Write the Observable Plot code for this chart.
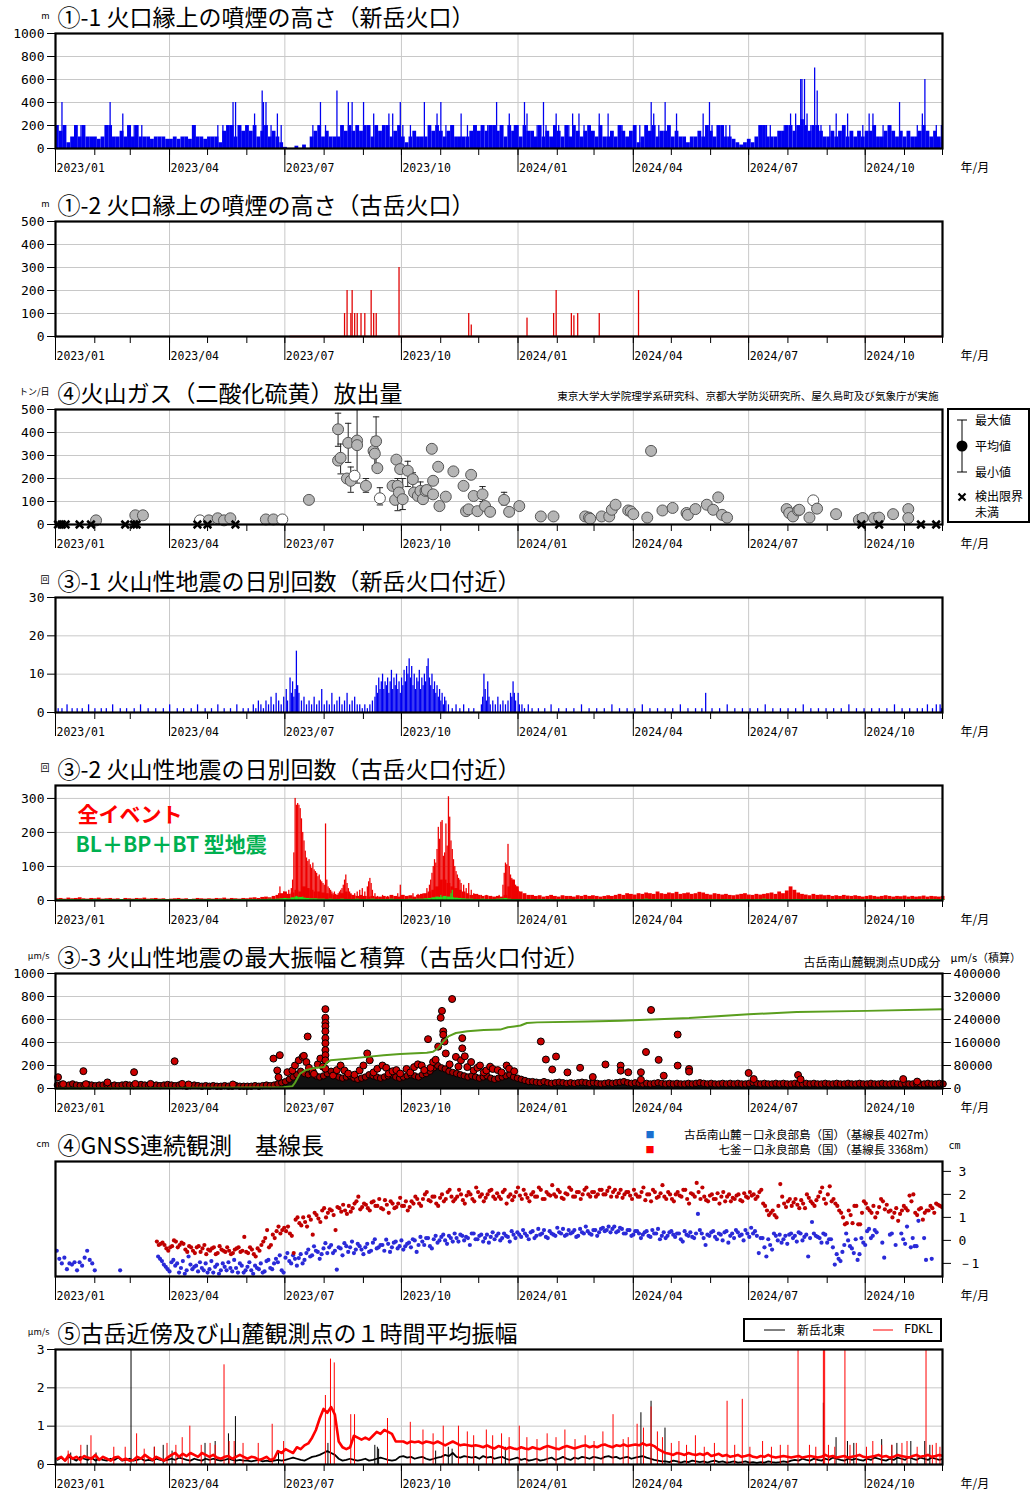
<!DOCTYPE html>
<html><head><meta charset="utf-8">
<script src="https://cdn.jsdelivr.net/npm/d3@7"></script>
<script src="https://cdn.jsdelivr.net/npm/@observablehq/plot@0.6"></script>
<style>
body{margin:0;background:#fff;}
#wrap{position:relative;width:1030px;height:1492px;overflow:hidden;background:#fff;}
#wrap svg{display:block;}
.box{position:absolute;border:2px solid #000;background:#fff;font-family:'Noto Sans CJK JP',sans-serif;font-size:12px;}
.box span{position:absolute;white-space:nowrap;line-height:13px;}
</style>
</head><body><div id="wrap"></div>
<script>
// ---------- DATA ----------
// day numbers count from 2023-01-01 (day 0); the charts run to 2024-12-01 (day 700)

// ①-1 plume height, Shindake: typical level per 3-day bin (m) and individual higher days [day, m]
const smokeShinBase3d = [
 200,150,200,50,100,200,100,200,100,100, 100,80,100,200,200,100,100,150,100,200,
 100,200,100,100,100,80,100,100,100,80, 80,100,80,100,100,80,200,100,100,80,
 100,100,100,50,150,200,200,100,200,150, 200,150,200,100,150,200,100,150,100,50,
 10,0,0,20,0,30,0,
 100,150,200,100,150,100,100,100,200,150,200,150,200,
 150,200,200,100,200,150,200,200,100,150, 200,100,50,100,150,100,100,100,200,150,
 200,150,100,150,200,100,100,100,100,150, 200,150,200,150,200,200,150,200,100,200,
 150,200,100,200,150,150,100,200,100,150, 100,200,150,100,200,100,200,150,100,150,
 200,150,100,200,100,100,150,100,200,150, 100,150,200,50,100,200,150,200,100,150,
 150,200,100,150,100,100,50,100,100,150, 100,200,150,100,200,200,100,100,80,50,
 30,50,80,50,100,200,200,100,100,100, 150,150,200,200,150,200,250,200,150,200,
 200,150,100,100,150,100,150,200,100,150, 100,150,100,150,150,200,100,100,150,200,
 150,100,150,100,150,100,100,150,200,150, 100,150,100,50];
const smokeShinPeaks = [
 [5,400],[16,200],[20,200],[22,200],[43,400],[53,300],[57,200],[62,200],[68,200],[110,200],[128,200],[132,200],
 [136,200],[140,400],[142,400],[146,200],[151,200],[157,300],[163,500],[164,400],[166,400],[170,200],[175,300],[178,200],
 [203,200],[209,400],[213,200],[222,500],[231,400],[234,400],[238,200],[243,400],[251,300],[263,300],[266,300],
 [272,400],[274,200],[280,200],[291,400],[295,200],[301,300],[304,400],[308,200],[312,200],[320,300],[325,200],
 [330,200],[336,200],[341,200],[348,400],[351,200],[358,300],[362,200],[364,200],[370,400],[372,300],[380,200],
 [385,400],[387,200],[395,300],[397,200],[403,200],[405,200],[408,300],[413,300],[417,200],[422,200],[429,300],
 [436,300],[446,200],[447,200],[461,200],[470,400],[472,300],[476,200],[481,400],[484,200],[490,300],[511,300],
 [516,400],[518,200],[526,200],[529,200],[532,200],[561,200],[564,200],[575,200],[580,300],[584,300],[588,600],
 [589,600],[591,600],[593,300],[596,200],[599,700],[601,500],[604,200],[611,200],[616,300],[625,300],[637,200],
 [642,300],[645,300],[653,200],[659,200],[666,400],[680,200],[684,300],[686,600],[695,200],[699,200]];

// ①-2 plume height, Furudake [day, m]
const smokeFuruDays = [
 [228,100],[230,200],[233,100],[234,200],[236,100],[238,100],[241,100],[244,100],[249,200],[251,100],[253,100],
 [271,300],[326,100],[328,50],[372,80],[393,100],[395,200],[407,100],[409,90],[412,100],[429,100],[460,200]];
const furuObservedSpan = [[185,700]];

// ④ SO2 emission: [day, mean, min, max, open circle?]
const gasObs = [
 [32,18],[63,40],[69,40],[114,18,null,null,1],[121,18],[128,27],[133,18],[138,27],[166,22],[172,22],[179,22,null,null,1],[200,107],
 [223,414,340,484],[223,278],[225,290,220,350],[231,355,270,440],[230,200],[233,190,140,250],[236,212,null,null,1],
 [238,365,180,500],[238,345],[245,168,140,200],[251,320],[252,308,255,380],[253,362,250,468],[254,245],
 [256,114,85,160,1],[266,168],[268,107],[269,282],[270,168,60,200],[271,139],[272,241],[274,110,65,200],
 [278,234,165,275],[282,197,145,225],[283,139],[286,124],[288,146,120,185],[290,110],[292,146],[293,150],
 [297,329],[298,190],[298,131],[302,251],[303,80],[308,121],[314,231],[322,168],[324,58],[326,66],[328,216],
 [330,124],[333,58],[337,131,100,165],[339,80],[343,55],[354,107,85,140],[358,55],[366,80],[383,35],[393,35],
 [418,35],[421,30],[422,25],[431,35],[437,35],[439,64],[442,86],[452,61],[454,57],[456,45],[467,30],[470,320],
 [479,61],[487,72],[498,50],[499,42],[505,67],[514,86],[519,64],[523,118],[526,42],[530,30],
 [577,67],[579,50],[582,35],[586,61],[587,64],[595,30],[598,105,null,null,1],[601,69],[616,45],[634,20],[637,28],
 [646,28],[650,30],[661,45],[673,67],[673,28]];
const gasBelowLimit = [2,5,8,19,28,55,62,64,112,120,142,636,650,683,695];

// ③-1 daily counts near Shindake crater [day, count]
const quakeShin = [
 [2,1],[5,1],[9,2],[13,1],[17,1],[21,1],[26,2],[31,1],[36,1],[40,1],[45,2],[51,1],[56,1],[62,1],[67,2],[73,1],
 [79,1],[85,1],[90,2],[96,1],[101,1],[107,1],[112,2],[118,1],[123,1],[128,2],[133,1],[138,1],[143,2],[148,1],[152,1],
 [156,2],[158,1],[160,3],[162,2],[164,1],[166,3],[168,2],[170,4],[172,2],[174,5],[176,3],[178,2],[180,4],[182,6],
 [183,3],[185,9],[186,5],[187,8],[188,4],[189,6],[190,16],[191,7],[192,5],[194,3],[196,4],[198,2],[200,3],
 [202,2],[204,4],[206,2],[208,3],[210,6],[212,2],[214,3],[216,2],[218,5],[220,2],[222,3],[224,4],[226,2],[228,3],
 [230,5],[232,2],[234,3],[236,4],[238,2],[240,2],[242,1],[244,2],[246,1],[248,2],[250,3],
 [252,4],[253,7],[254,5],[255,9],[256,6],[257,8],[258,10],[259,6],[260,8],[261,7],[262,9],[263,5],[264,8],[265,11],
 [266,6],[267,9],[268,7],[269,10],[270,6],[271,8],[272,5],[273,9],[274,7],[275,11],[276,8],[277,12],[278,10],
 [279,14],[280,9],[281,12],[282,7],[283,10],[284,6],[285,9],[286,8],[287,11],[288,6],[289,9],[290,7],[291,10],
 [292,8],[293,12],[294,14],[295,9],[296,7],[297,10],[298,6],[299,8],[300,5],[301,7],[302,4],[303,6],[304,3],
 [305,5],[306,2],[307,4],[308,3],[310,2],[313,1],[316,2],[319,1],[322,2],[326,1],[330,1],
 [336,2],[337,4],[338,10],[339,6],[340,3],[341,8],[342,4],[343,2],[345,3],[347,2],[349,4],[351,2],[353,3],[355,2],
 [357,3],[359,5],[360,4],[361,8],[362,5],[363,3],[365,5],[366,2],[368,2],[370,1],[373,2],[376,1],
 [381,1],[386,1],[391,2],[397,1],[403,1],[409,1],[415,2],[421,1],[427,1],[433,1],[439,2],[445,1],[451,1],[457,1],
 [463,2],[469,1],[475,1],[481,1],[487,1],[493,2],[499,1],[505,1],[510,1],[513,5],[518,1],[524,1],[530,2],[536,1],
 [542,1],[548,1],[554,1],[560,2],[566,1],[572,1],[578,1],[584,1],[590,2],[596,1],[602,1],[608,1],[614,1],[620,1],
 [626,2],[632,1],[638,1],[644,1],[650,1],[656,1],[662,2],[668,1],[674,1],[680,1],[684,1],[688,2],[692,1],[695,2],
 [698,2],[699,1]];

// ③-2 daily counts near Furudake crater: quiet level per 3-day bin, burst days [day, count], BL+BP+BT per 3-day bin
const quakeFuruBase3d = [
 5,6,4,7,5,6,8,5,4,6, 5,7,4,5,6,4,5,3,6,5, 4,6,5,7,4,5,6,4,5,3, 4,5,6,4,5,3,4,6,5,4, 5,4,6,5,7,4,6,5,4,6, 5,7,8,6,9,
 10,8,12,15,20,25,18,22,30,25,
 40,35,30,25,25,22,20,18,15,15, 20,25,18,15,12,15,12,10,12,10, 10,12,10,15,12,10,15,12,14,10,
 15,18,20,25,30,40,60,60,50,40, 35,30,25,20,15,18,15,12,14,12, 10,12,10,15,40,60,40,25,20,15,
 15,12,14,10,12,15,12,10,14,12, 12,10,14,12,15,12,14,12,10,12, 14,12,15,18,15,20,18,16,20,18,
 22,20,18,25,20,18,22,20,24,18, 20,22,18,20,24,22,18,16,20,18, 16,18,15,14,16,18,20,16,15,18,
 16,18,20,22,18,25,20,28,40,30, 22,18,16,14,18,15,16,14,15,12, 14,12,15,13,12,14,12,10,12,14,
 12,10,12,14,12,10,12,11,13,10, 12,10,11,13,10,12,11,10,12];
const quakeFuruBurst = [
 [176,20],[177,40],[178,15],[180,25],[182,20],[184,30],[186,35],[187,60],[188,140],[189,300],[190,280],[191,285],
 [192,280],[193,270],[194,240],[195,200],[196,175],[197,145],[198,125],[199,115],[200,120],[201,105],[202,95],
 [203,110],[204,90],[205,85],[206,80],[207,70],[208,75],[209,60],[210,55],[211,50],[212,45],[213,225],[214,60],
 [215,40],[216,35],[217,30],[218,25],[219,20],[220,25],[221,18],[222,15],[223,20],[224,25],[225,30],[226,35],
 [227,45],[228,60],[229,75],[230,50],[231,35],[232,25],[233,20],[234,15],[236,20],[238,25],[240,30],[242,35],
 [244,25],[246,40],[247,55],[248,65],[249,50],[250,30],[252,20],[254,12],[258,15],[262,12],[266,10],[270,20],
 [272,45],[274,15],[278,12],[282,20],[286,18],[290,20],[293,35],[295,45],[296,60],[297,80],[298,100],[299,120],
 [300,110],[301,150],[302,215],[303,180],[304,230],[305,235],[306,130],[307,140],[308,225],[309,160],[310,305],
 [311,245],[312,175],[313,150],[314,120],[315,100],[316,85],[317,75],[318,65],[319,60],[320,50],[322,45],[324,35],
 [326,50],[328,30],[330,20],[333,18],[336,15],[340,15],[344,12],[350,15],[353,45],[354,80],[355,110],[356,105],
 [357,165],[358,100],[359,75],[360,65],[361,60],[362,55],[363,45],[364,40],[365,30],[366,25],[367,20]];
const quakeBLBase3d = [
 2,3,2,2,3,2,2,3,2,2, 3,2,2,3,2,2,2,3,2,2, 2,3,2,2,2,3,2,2,3,2, 2,2,3,2,2,2,3,2,2,2,
 3,2,2,3,2,2,2,3,2,3, 2,3,3,2,3,3,4,3,4,5,
 6,5,8,10,9,7,6,5,5,4,
 4,3,4,3,3,4,3,3,3,4, 3,3,3,4,3,3,3,3,4,3, 3,3,3,4,3,4,4,5,6,8,
 10,9,12,10,8,7,6,5,4,4,
 3,3,4,3,3,3,4,5,6,4, 3,3,3,2,3,3,2,3,3,2, 3,2,3,3,2,3,2,3,3,2, 3,3,2,3,3,3,2,3,3,3,
 3,2,3,3,3,4,3,3,3,3, 3,3,2,3,3,3,3,2,3,3, 3,2,3,3,2,3,3,3,2,3, 3,3,3,2,3,3,4,3,3,3,
 2,3,3,2,3,3,2,3,3,3, 2,3,3,2,3,2,3,3,2,3, 3,2,3,3,2,3,3,2,3,3, 2,3,3,2,3,3,2,3,3,2, 3,3,2,3];
const quakeBLPeaks = [[190,12],[195,10],[304,15],[312,20],[313,30]];

// ③-3 maximum amplitude (µm/s): upper edge of the dense mass per 3-day bin, scattered larger events [day, µm/s]
const ampMass3d = [
 30,35,25,30,40,30,25,30,35,30, 25,30,30,35,25,30,25,30,35,30, 25,30,35,30,25,30,30,25,30,35,
 30,25,30,25,20,25,30,25,20,25, 20,25,20,20,25,20,20,25,20,20,
 20,20,25,20,25,30,25,30,40,50,
 60,80,100,120,150,130,120,140,110,100,
 110,130,150,120,100,90,100,110,90,80, 90,100,120,110,100,90,100,110,120,100, 90,100,110,120,110,100,120,130,150,180,
 200,180,170,150,140,130,120,110,100,110,
 100,90,100,110,90,80,90,100,110,120,100,90,80,70,60,
 60,55,50,60,50,45,50,55,50,45, 50,45,50,55,50,45,50,45,40,45, 50,45,50,55,60,50,45,50,45,40,
 45,40,45,50,45,40,45,40,45,40, 40,45,40,45,50,45,40,45,40,40, 45,40,45,40,45,40,40,45,50,45,
 40,45,40,40,45,40,45,40,40,45, 40,40,45,40,45,40,40,45,40,40, 45,40,40,45,40,40,45,40,40,45,
 40,40,45,40,40,45,40,40,45,40, 40,45,40,40,45,40,40,45,40];
const ampEvents = [
 [2,98],[6,38],[22,151],[24,38],[41,53],[62,142],[63,40],[75,40],[94,237],[100,40],[105,35],[140,35],
 [172,260],[175,157],[176,98],[177,290],[183,142],[187,157],[189,200],[192,245],[195,275],[196,284],[198,230],
 [199,452],[200,180],[203,150],[204,127],[207,210],[209,260],[211,190],
 [213,690],[213,615],[213,571],[213,541],[213,497],[213,438],[213,393],[213,334],[213,290],[213,245],[213,172],
 [219,112],[222,160],[225,200],[228,157],[231,130],[236,120],[240,157],[243,200],[246,305],[248,245],[251,140],
 [254,172],[258,200],[261,180],[263,130],[266,150],[269,160],[272,130],[277,170],[280,140],[283,186],[286,210],
 [289,200],[291,160],[294,429],[296,180],[298,230],[300,250],[302,364],[304,615],[305,675],[306,497],[306,467],
 [307,408],[308,305],[311,210],[313,778],[316,275],[318,190],[320,245],[321,438],[321,349],[323,280],[325,186],
 [328,230],[330,157],[333,180],[335,200],[338,140],[340,157],[343,190],[345,170],[349,160],[352,140],[356,200],
 [358,172],[362,150],[383,409],[387,252],[392,165],[395,278],[404,140],[414,180],[424,100],[434,209],[446,199],
 [446,155],[452,141],[462,141],[462,76],[466,317],[470,683],[476,249],[480,111],[491,469],[491,199],[500,170],
 [500,147],[547,135],[551,82],[586,117],[588,80],[669,82],[680,60]];
// cumulative amplitude [day, µm/s]
const ampCumulative = [
 [0,0],[60,1000],[120,2500],[180,4000],[187,8000],[189,20000],[193,52000],[197,63000],[204,71000],[212,74500],
 [214,90000],[217,98000],[233,104000],[246,110000],[259,116000],[272,119600],[293,124400],[298,128000],
 [302,140000],[304,151600],[306,163000],[310,181000],[316,193000],[325,199000],[338,203600],[351,204800],
 [357,213000],[362,216000],[367,219000],[372,228000],[380,230000],[420,233000],[446,236000],[500,245000],
 [547,258000],[585,266000],[640,270000],[700,275600]];

// ④ GNSS baseline (cm): early blue days; then two interleaved sets of readings every 3 days from day 80
const gnssBlueEarly = [[1,-0.45],[3,-0.8],[5,-1.0],[7,-0.75],[9,-1.25],[11,-1.0],[13,-1.05],[15,-0.95],[17,-1.3],
 [19,-0.95],[21,-1.1],[23,-0.75],[25,-0.45],[27,-0.85],[29,-1.0],[31,-1.3],[51,-1.3]];
const gnssStartDay = 80;
const gnssRed3d = [
 -0.05,-0.15,-0.2,-0.45,-0.25,-0.05,-0.2,-0.15,-0.5,-0.3, -0.55,-0.25,-0.35,-0.6,-0.45,-0.3,-0.55,-0.4,-0.5,-0.45,
 -0.55,-0.35,-0.5,0.15,-0.55,-0.4,-0.7,-0.45,-0.05,0.45, -0.2,0.1,0.6,0.45,
 0.4,0.3,-0.55,1.0,0.65,0.8,1.05,0.25,1.1,0.8, 1.4,1.2,1.3,0.45,1.4,1.55,1.15,1.25,1.6,1.9,
 1.45,1.55,1.3,1.7,1.5,1.4,1.75,1.2,1.6,1.45, 1.85,
 1.5,1.3,1.7,1.9,1.6,1.8,2.1,1.7,1.9,1.5, 2.0,1.8,2.2,1.7,1.9,2.0,1.6,2.1,1.8,2.3,
 1.9,1.7,2.0,2.2,1.8,1.9,2.1,1.6,2.0,1.9, 2.3,1.8,2.0,1.7,2.1,1.9,2.2,1.8,2.0,2.4,
 1.9,2.1,1.8,2.0,2.2,1.9,2.1,2.0,2.3,1.9, 2.1,2.0,
 2.2,2.0,2.3,2.1,1.9,2.2,2.0,2.1,1.8,2.0, 1.9,2.3,2.0,1.7,2.1,1.9,2.4,1.8,2.0,1.7,
 2.1,1.9,2.2,1.6,2.0,2.5,1.8,1.9,1.7,2.0, 1.8,1.6,2.1,1.9,1.7,1.8,2.0,1.7,1.9,2.1,
 2.0,1.9,2.2,1.5,1.1,1.3,1.0,2.45,1.6,1.7, 1.5,1.8,1.4,1.6,2.0,1.7,1.5,1.9,2.3,1.6,
 2.35,1.8,1.5,1.2,0.7,1.3,0.75,1.5,0.7,1.7, 1.4,1.2,1.0,1.45,1.7,1.55,1.3,1.2,0.85,1.3,
 1.4,1.95,2.0,1.1,1.4,1.2,1.3,1.4,1.6,1.5];
const gnssRed3dB = [
 -0.2,-0.1,-0.35,-0.3,0.0,-0.3,-0.1,-0.4,-0.25,-0.45, -0.3,-0.5,-0.2,-0.4,-0.35,-0.6,-0.25,-0.45,-0.3,-0.6,
 -0.4,-0.3,-0.45,-0.5,-0.3,-0.6,-0.35,-0.2,0.1,-0.3, 0.25,0.4,0.3,0.55,
 0.6,0.2,0.9,0.75,1.0,0.6,0.9,1.2,0.95,1.3, 1.0,1.35,1.1,1.45,1.25,1.3,1.5,1.4,1.7,1.35,
 1.6,1.4,1.65,1.5,1.8,1.35,1.55,1.7,1.4,1.6, 1.5,
 1.7,1.45,1.6,1.8,1.5,2.0,1.75,1.9,1.6,1.85, 1.7,2.1,1.9,1.8,2.2,1.75,1.95,2.0,1.7,2.1,
 2.0,1.85,2.15,1.9,2.05,1.8,2.2,1.9,1.75,2.1, 1.95,2.2,1.85,2.0,1.9,2.3,1.8,2.1,1.95,2.0,
 2.2,1.85,2.05,2.3,1.9,2.1,1.8,2.2,2.0,2.1, 1.9,2.2,
 2.0,2.15,1.9,2.2,2.05,1.85,2.1,1.95,2.2,1.9, 2.1,1.75,2.0,2.2,1.85,2.05,1.9,2.1,1.8,2.0,
 1.95,2.2,1.8,2.05,1.9,2.1,2.3,1.75,1.95,1.8, 2.05,1.9,1.7,2.0,1.85,1.95,1.75,2.05,1.85,1.95,
 1.8,2.1,1.6,1.3,1.2,1.1,1.5,1.9,1.45,1.8, 1.65,1.55,1.75,1.4,1.85,1.6,1.75,2.1,1.8,2.0,
 1.7,1.6,1.3,1.0,0.75,1.1,1.5,0.7,1.2,1.6, 1.3,1.5,1.2,1.8,1.35,1.25,1.0,1.4,1.15,1.5,
 1.3,1.7,1.2,1.35,0.9,1.3,1.5,1.2,1.55,1.45];
const gnssBlue3d = [
 -0.7,-0.9,-1.15,-1.35,-0.85,-1.0,-1.2,-1.45,-0.7,-1.25, -1.1,-0.95,-1.3,-1.4,-0.9,-1.15,-1.45,-1.0,-1.3,-1.2,
 -0.85,-1.4,-1.1,-1.3,-0.95,-1.45,-1.2,-1.0,-1.35,-0.85, -1.25,-0.8,-0.65,-1.4,
 -0.55,-1.0,-0.8,-0.77,-1.0,-0.55,-0.7,-0.26,-0.5,-0.6, -0.12,-0.3,-0.55,-1.27,-0.35,-0.12,-0.5,-0.05,-0.4,-0.25,
 -0.6,-0.15,-0.45,0.05,-0.3,-0.2,0.03,-0.5,-0.1,-0.35, 0.0,
 -0.26,-0.1,0.05,-0.5,0.15,-0.2,0.1,-0.35,0.2,0.0, 0.25,-0.15,0.1,0.3,-0.05,0.2,0.15,-0.2,0.3,0.05,
 0.25,0.1,-0.1,0.35,0.2,0.0,0.3,0.15,0.4,0.1, 0.25,0.45,0.2,0.35,0.1,0.5,0.3,0.15,0.4,0.25,
 0.55,0.3,0.2,0.45,0.35,0.15,0.5,0.3,0.4,0.25, 0.45,0.35,
 0.55,0.45,0.35,0.6,0.4,0.5,0.3,0.45,0.25,0.4, 0.1,0.35,0.2,0.45,0.3,0.05,0.35,0.2,0.4,0.15,
 0.3,-0.05,0.25,0.35,0.1,1.15,0.3,-0.2,0.2,0.4, 0.05,0.25,0.35,-0.1,0.3,0.45,0.2,0.0,0.3,0.55,
 0.4,-0.55,0.1,-0.7,-0.2,0.3,0.0,-0.1,0.2,0.25, 0.1,-0.05,0.3,0.15,-0.7,0.8,0.2,0.1,0.3,-0.1,
 0.05,-1.05,-0.8,-0.5,0.3,-0.25,-0.55,-0.85,0.1,-0.2, 0.5,0.2,0.35,null,-0.75,null,0.3,-0.2,null,0.05,
 0.6,-0.3,-0.25,0.85,null,-0.85,null,null,null,null];
const gnssBlue3dB = [
 -0.8,-1.05,-1.25,-0.95,-1.1,-1.4,-0.9,-1.3,-1.05,-1.15, -1.35,-1.2,-1.0,-1.25,-1.4,-1.05,-1.3,-1.15,-0.95,-1.35,
 -1.2,-1.0,-1.4,-1.15,-1.3,-1.1,-1.25,-1.4,-0.9,-1.2, -1.0,-0.95,-1.3,-0.75,
 -0.9,-0.65,-1.1,-0.6,-0.85,-0.4,-0.65,-0.45,-0.8,-0.35, -0.55,-0.2,-0.45,-0.3,-0.65,-0.25,-0.3,-0.55,-0.15,-0.4,
 -0.3,-0.5,-0.1,-0.35,-0.2,-0.45,-0.15,-0.3,-0.05,-0.25, -0.4,
 -0.15,-0.3,0.0,-0.2,-0.05,0.1,-0.25,0.05,-0.1,0.15, 0.0,0.2,-0.05,0.1,0.25,0.0,0.1,0.3,0.05,0.2,
 -0.05,0.25,0.15,0.05,0.3,0.1,0.2,-0.05,0.25,0.35, 0.15,0.3,0.05,0.4,0.2,0.25,0.45,0.1,0.3,0.2,
 0.35,0.5,0.25,0.3,0.45,0.2,0.35,0.6,0.3,0.45, 0.2,0.5,
 0.4,0.6,0.5,0.35,0.55,0.3,0.45,0.2,0.4,0.3, 0.25,0.4,0.15,0.3,0.5,0.2,0.1,0.35,0.25,0.3,
 0.05,0.4,0.2,0.15,0.3,0.45,0.1,0.25,0.35,0.15, 0.3,0.0,0.4,0.2,0.1,0.35,0.25,0.45,0.15,0.3,
 0.2,0.1,-0.3,0.05,-0.4,0.2,0.25,0.05,-0.15,0.3, 0.2,0.35,0.0,0.25,0.1,0.3,0.15,-0.1,0.25,0.05,
 -0.3,-0.6,-0.9,-0.2,0.0,-0.35,0.05,-0.6,-0.1,0.4, 0.1,0.45,null,-0.1,null,0.25,null,null,0.3,-0.15,
 null,0.1,-0.25,null,0.1,null,-0.8,null,null,null];

// ⑤ 1-hour mean amplitude (µm/s): level per 3-day bin and single-hour spikes [day, µm/s]
const fdkl3d = [
 0.15,0.2,0.1,0.25,0.15,0.2,0.12,0.22,0.18,0.15, 0.25,0.12,0.2,0.15,0.1,0.18,0.2,0.12,0.15,0.1,
 0.12,0.2,0.15,0.25,0.18,0.12,0.2,0.15,0.1,0.18, 0.25,0.3,0.2,0.28,0.22,0.3,0.25,0.2,0.3,0.25,
 0.2,0.25,0.18,0.15,0.2,0.22,0.15,0.2,0.25,0.2,
 0.15,0.2,0.18,0.12,0.15,0.2,0.12,0.15,0.35,0.3,
 0.4,0.35,0.3,0.45,0.4,0.5,0.55,0.7,0.9,1.2,
 1.45,1.35,1.5,1.3,0.6,0.45,0.4,0.45,0.75,0.7,
 0.65,0.7,0.65,0.75,0.85,0.8,0.9,0.85,0.8,0.6,
 0.6,0.6,0.55,0.6,0.58,0.6,0.55,0.6,0.58,0.55,
 0.6,0.55,0.5,0.55,0.6,0.55,0.5,0.52,0.5,0.48,
 0.5,0.48,0.45,0.5,0.45,0.42,0.48,0.45,0.4,0.45,0.42,0.4,0.45,0.42,0.4,
 0.45,0.42,0.4,0.45,0.48,0.45,0.42,0.4,0.45,0.48, 0.45,0.42,0.45,0.48,0.5,0.45,0.48,0.45,0.5,0.52,
 0.48,0.45,0.5,0.48,0.52,0.48,0.5,0.52,0.5,0.55, 0.5,0.52,0.48,0.4,0.35,
 0.3,0.28,0.25,0.3,0.28,0.25,0.3,0.27,0.25,0.28, 0.25,0.3,0.22,0.25,0.28,0.22,0.25,0.2,0.22,0.25,
 0.2,0.22,0.25,0.2,0.18,0.22,0.2,0.25,0.2,0.18, 0.2,0.22,0.2,0.18,0.2,0.22,0.18,0.2,0.22,0.2,
 0.18,0.2,0.25,0.2,0.22,0.18,0.2,0.22,0.18,0.2, 0.22,0.25,0.2,0.18,0.2,0.22,0.25,0.2,0.22,0.18,
 0.2,0.25,0.22,0.2,0.18,0.22,0.25,0.2,0.22,0.25, 0.2,0.22,0.25,0.22];
const fdklSpikes = [
 [10,0.35],[20,0.5],[28,0.75],[46,0.45],[55,0.45],[64,0.8],[70,0.4],[78,0.45],[88,0.55],[95,0.5],[100,0.7],
 [106,1.0],[115,0.5],[122,0.55],[126,0.5],[133,2.6],[137,0.6],[141,0.6],[148,0.55],[160,0.55],[171,1.05],[180,0.6],
 [213,1.8],[217,2.75],[220,2.65],[233,1.3],[236,1.3],[262,1.2],[280,1.1],[290,0.9],[298,0.8],[306,1.0],[318,1.0],
 [325,0.85],[330,0.75],[340,0.9],[345,0.75],[352,0.8],[358,0.7],[366,1.0],[372,0.7],[380,0.65],[388,0.8],[395,0.7],
 [402,0.9],[410,0.65],[418,0.75],[425,0.6],[432,0.85],[440,1.3],[448,0.65],[452,0.7],[459,1.05],[464,0.95],
 [470,1.5],[475,0.85],[479,0.7],[486,0.55],[492,0.6],[498,0.5],[505,0.75],[512,0.45],[520,0.55],[530,1.65],
 [536,0.5],[542,1.7],[548,0.45],[558,0.6],[565,0.45],[572,0.5],[578,0.5],[586,3],[595,0.5],[600,0.45],[606,3],
 [607,3],[610,0.5],[615,0.45],[623,3],[627,0.5],[632,0.55],[640,0.45],[645,0.6],[652,0.5],[660,0.5],[668,0.55],
 [672,0.6],[680,0.45],[687,3],[692,0.5],[695,0.55],[698,0.45]];
const shinNE3d = [
 0.12,0.18,0.1,0.2,0.15,0.1,0.2,0.15,0.12,0.18, 0.1,0.15,0.12,0.1,0.15,0.12,0.18,0.1,0.12,0.15,
 0.1,0.12,0.15,0.1,0.12,0.1,0.15,0.12,0.1,0.12, 0.15,0.12,0.18,0.15,0.12,0.1,0.15,0.12,0.1,0.15,
 0.12,0.15,0.12,0.1,0.12,0.15,0.12,0.1,0.12,0.1,
 0.1,0.08,0.1,0.12,0.08,0.1,0.08,0.1,0.12,0.1,
 0.12,0.15,0.18,0.15,0.12,0.1,0.15,0.2,0.22,0.25, 0.3,0.35,0.3,0.25,0.15,0.1,0.12,0.15,0.12,0.1,
 0.12,0.15,0.1,0.12,0.15,0.18,0.15,0.12,0.1,0.12, 0.2,0.22,0.18,0.2,0.15,0.18,0.2,0.15,0.12,0.15,
 0.18,0.2,0.25,0.22,0.3,0.2,0.18,0.22,0.2,0.18,
 0.2,0.15,0.22,0.18,0.2,0.15,0.18,0.2,0.15,0.12, 0.15,0.18,0.12,0.15,0.1,0.12,0.15,0.1,0.12,0.15,
 0.18,0.12,0.15,0.2,0.15,0.12,0.18,0.15,0.2,0.18, 0.15,0.2,0.18,0.15,0.2,0.22,0.18,0.2,0.15,0.18,
 0.2,0.15,0.18,0.2,0.22,0.18,0.15,0.12,0.1,0.08,
 0.08,0.06,0.1,0.08,0.05,0.08,0.06,0.1,0.08,0.06, 0.08,0.05,0.08,0.1,0.06,0.08,0.05,0.06,0.08,0.05,
 0.06,0.08,0.05,0.06,0.04,0.06,0.05,0.08,0.06,0.05, 0.06,0.08,0.06,0.1,0.12,0.1,0.15,0.12,0.1,0.15,
 0.12,0.1,0.15,0.12,0.18,0.15,0.12,0.1,0.15,0.12, 0.15,0.12,0.1,0.15,0.12,0.18,0.15,0.12,0.1,0.15,
 0.12,0.18,0.15,0.12,0.2,0.15,0.12,0.18,0.15,0.12, 0.18,0.15,0.12,0.15];
const shinNESpikes = [
 [12,0.3],[25,0.5],[32,0.3],[59.6,3],[78,0.45],[85,0.5],[92,0.35],[118,0.55],[126,0.6],[136.5,0.8],[142,1.25],
 [176,0.35],[215,0.55],[217,0.9],[252,0.5],[254,0.45],[255,0.4],[300,0.35],[310,0.45],[313,0.4],[330,0.45],
 [345,0.4],[355,0.45],[462,1.35],[470,1.65],[481,0.95],[606,1.6],[616,0.7],[625,0.6],[630,0.55],[652,0.65],
 [660,0.5],[664,0.55],[675,0.6],[686,0.6],[690,0.5]];

// ---------- helpers ----------
const T0 = Date.UTC(2023, 0, 1);
const D = d => new Date(T0 + d * 86400000);
const monthTicks = d3.utcMonth.range(D(0), D(701));
const quarterTicks = d3.utcMonth.every(3).range(D(0), D(701));
const CJK = "'Noto Sans CJK JP', sans-serif";
const MONO = "'DejaVu Sans Mono', monospace";
const bin3 = arr => arr.map((v, i) => ({x1: D(3 * i), x2: D(3 * i + 3), xm: D(3 * i + 1.5), v}));
const pairs = arr => arr.map(([d, v]) => ({x: D(d), x1: D(d), x2: D(d + 1), v}));
const every3 = (arr, start) => arr.map((v, i) => ({x: D(start + 3 * i), v})).filter(d => d.v != null);
const wrap = document.getElementById("wrap");
const label = (s, anchor, dx, dy, opts = {}) =>
  Plot.text([s], {frameAnchor: anchor, dx, dy, text: d => d, lineAnchor: "middle", ...opts});

function panel({height = 188, yDomain, yTicks, gridTicks = yTicks, yFmt = d => String(d), leftAxis = true, title, unit, marks, extra = []}) {
  const svg = Plot.plot({
    width: 1030, height,
    marginLeft: 55, marginRight: 88, marginTop: 33, marginBottom: height - 148,
    x: {type: "utc", domain: [D(0), D(700)]},
    y: {domain: yDomain},
    style: {fontFamily: MONO, fontSize: "12px", background: "white", overflow: "visible", color: "black"},
    marks: [
      Plot.gridY(gridTicks, {stroke: "#c8c8c8", strokeOpacity: 1}),
      Plot.gridX(quarterTicks, {stroke: "#c8c8c8", strokeOpacity: 1}),
      ...marks,
      Plot.frame({stroke: "black", strokeWidth: 2.2}),
      Plot.axisX(monthTicks, {tickSize: 7, fill: "none", label: null}),
      Plot.axisX(quarterTicks, {tickSize: 24, fill: "none", label: null}),
      Plot.text(quarterTicks, {x: d => d, frameAnchor: "bottom", lineAnchor: "middle", dy: 20, dx: 1, textAnchor: "start", text: d3.utcFormat("%Y/%m"), fontSize: 11.5}),
      leftAxis ? Plot.axisY(yTicks, {tickSize: 8, tickPadding: 3, tickFormat: yFmt, label: null, fontSize: 13}) : null,
      label(title, "top-left", 2, -15, {textAnchor: "start", fontSize: 23, fontFamily: CJK}),
      label(unit, "top-left", -6, -17, {textAnchor: "end", fontSize: 9, fontFamily: CJK}),
      label("年/月", "bottom-right", 18, 20, {textAnchor: "start", fontSize: 12, fontFamily: CJK}),
      ...extra
    ]
  });
  wrap.appendChild(svg);
}

// ①-1
panel({
  yDomain: [0, 1000], yTicks: [0, 200, 400, 600, 800, 1000], gridTicks: [200, 400, 600, 800],
  title: "①-1 火口縁上の噴煙の高さ（新岳火口）", unit: "m",
  marks: [
    Plot.rect(bin3(smokeShinBase3d), {x1: "x1", x2: "x2", y1: 0, y2: "v", fill: "#0000f0", clip: true}),
    Plot.rect(pairs(smokeShinPeaks), {x1: "x1", x2: "x2", y1: 0, y2: "v", fill: "#0000f0", clip: true})
  ]
});
// ①-2
panel({
  yDomain: [0, 500], yTicks: [0, 100, 200, 300, 400, 500], gridTicks: [100, 200, 300, 400],
  title: "①-2 火口縁上の噴煙の高さ（古岳火口）", unit: "m",
  marks: [
    Plot.rect(pairs(smokeFuruDays), {x1: "x1", x2: "x2", y1: 0, y2: "v", fill: "#e00000"}),
    Plot.ruleY(furuObservedSpan, {y: 0, x1: d => D(d[0]), x2: d => D(d[1]), stroke: "#e00000", strokeWidth: 1.5})
  ]
});
// ④ gas
const gasErr = gasObs.filter(d => d[2] != null);
panel({
  yDomain: [0, 500], yTicks: [0, 100, 200, 300, 400, 500], gridTicks: [100, 200, 300, 400],
  title: "④火山ガス（二酸化硫黄）放出量", unit: "トン/日",
  marks: [
    Plot.ruleX(gasErr, {x: d => D(d[0]), y1: d => d[2], y2: d => d[3], stroke: "#222", strokeWidth: 1, clip: true}),
    Plot.link(gasErr, {x1: d => D(d[0] - 2.5), x2: d => D(d[0] + 2.5), y1: d => d[3], y2: d => d[3], stroke: "#222", clip: true}),
    Plot.link(gasErr, {x1: d => D(d[0] - 2.5), x2: d => D(d[0] + 2.5), y1: d => d[2], y2: d => d[2], stroke: "#222", clip: true}),
    Plot.dot(gasObs, {x: d => D(d[0]), y: d => d[1], r: 5.5, fill: d => d[4] ? "white" : "#b5b5b5", stroke: "#555", strokeWidth: 1}),
    Plot.dot(gasBelowLimit, {x: d => D(d), y: 0, symbol: "times", r: 3.5, stroke: "black", strokeWidth: 2.5})
  ],
  extra: [
    label("東京大学大学院理学系研究科、京都大学防災研究所、屋久島町及び気象庁が実施", "top-right", -4, -13, {textAnchor: "end", fontSize: 10.6, fontFamily: CJK})
  ]
});
// ③-1
panel({
  yDomain: [0, 30], yTicks: [0, 10, 20, 30], gridTicks: [10, 20],
  title: "③-1 火山性地震の日別回数（新岳火口付近）", unit: "回",
  marks: [
    Plot.rect(pairs(quakeShin), {x1: "x1", x2: "x2", y1: 0, y2: "v", fill: "#0000f0"})
  ]
});
// ③-2
panel({
  yDomain: [0, 338], yTicks: [0, 100, 200, 300], gridTicks: [100, 200, 300],
  title: "③-2 火山性地震の日別回数（古岳火口付近）", unit: "回",
  marks: [
    Plot.rect(bin3(quakeFuruBase3d), {x1: "x1", x2: "x2", y1: 0, y2: "v", fill: "#ee0000"}),
    Plot.rect(pairs(quakeFuruBurst), {x1: "x1", x2: "x2", y1: 0, y2: "v", fill: "#ee0000"}),
    Plot.rect(bin3(quakeBLBase3d), {x1: "x1", x2: "x2", y1: 0, y2: "v", fill: "#22dd22"}),
    Plot.rect(pairs(quakeBLPeaks), {x1: "x1", x2: "x2", y1: 0, y2: "v", fill: "#22dd22"}),
    label("全イベント", "top-left", 22, 30, {textAnchor: "start", fontSize: 21, fontWeight: "bold", fill: "#ff0000", fontFamily: CJK}),
    label("BL＋BP＋BT 型地震", "top-left", 20, 60, {textAnchor: "start", fontSize: 21, fontWeight: "bold", fill: "#00b050", fontFamily: CJK})
  ]
});
// ③-3
panel({
  yDomain: [0, 1000], yTicks: [0, 200, 400, 600, 800, 1000], gridTicks: [200, 400, 600, 800],
  title: "③-3 火山性地震の最大振幅と積算（古岳火口付近）", unit: "μm/s",
  marks: [
    Plot.area(bin3(ampMass3d), {x1: "xm", y1: 0, y2: "v", fill: "#111", curve: "step"}),
    Plot.dot(bin3(ampMass3d), {x: "xm", y: "v", r: 3.2, fill: "#a00000", stroke: "black", strokeWidth: 1}),
    Plot.dot(ampEvents, {x: d => D(d[0]), y: d => d[1], r: 3.5, fill: "#cc0000", stroke: "black", strokeWidth: 1}),
    Plot.line(ampCumulative, {x: d => D(d[0]), y: d => d[1] / 400, stroke: "#5a9e1e", strokeWidth: 2})
  ],
  extra: [
    Plot.axisY([0, 200, 400, 600, 800, 1000], {anchor: "right", tickSize: 8, tickPadding: 3, tickFormat: d => String(d * 400), label: null, fontSize: 13}),
    label("古岳南山麓観測点UD成分", "top-right", -2, -10, {textAnchor: "end", fontSize: 12, fontFamily: CJK}),
    label("μm/s（積算）", "top-right", 8, -15, {textAnchor: "start", fontSize: 11, fontFamily: CJK})
  ]
});
// ④ GNSS
const gnssRed = every3(gnssRed3d, gnssStartDay).concat(every3(gnssRed3dB, gnssStartDay + 1.5));
const gnssBlue = gnssBlueEarly.map(([d, v]) => ({x: D(d), v}))
  .concat(every3(gnssBlue3d, gnssStartDay + 1), every3(gnssBlue3dB, gnssStartDay + 2.5));
panel({
  yDomain: [-1.57, 3.43], yTicks: [-1, 0, 1, 2, 3], gridTicks: [], leftAxis: false,
  title: "④GNSS連続観測　基線長", unit: "cm",
  marks: [
    Plot.dot(gnssBlue, {x: "x", y: "v", r: 2.1, fill: "#2a2ad8", clip: true}),
    Plot.dot(gnssRed, {x: "x", y: "v", r: 2.1, fill: "#c00000", clip: true})
  ],
  extra: [
    Plot.axisY([-1, 0, 1, 2, 3], {anchor: "right", tickSize: 8, tickPadding: 8, tickFormat: d => d < 0 ? "－" + (-d) : String(d), label: null, fontSize: 13}),
    label("cm", "top-right", 6, -16, {textAnchor: "start", fontSize: 10, fontFamily: MONO}),
    label("■", "top-left", 590, -26, {textAnchor: "start", fontSize: 9, fill: "#1a6fd0", fontFamily: CJK}),
    label("■", "top-left", 590, -11, {textAnchor: "start", fontSize: 9, fill: "#ff0000", fontFamily: CJK}),
    label("古岳南山麓－口永良部島（国）（基線長 4027m）", "top-right", -7, -26, {textAnchor: "end", fontSize: 11.5, fontFamily: CJK}),
    label("七釜－口永良部島（国）（基線長 3368m）", "top-right", -7, -11, {textAnchor: "end", fontSize: 11.5, fontFamily: CJK})
  ]
});
// ⑤
panel({
  height: 176,
  yDomain: [0, 3], yTicks: [0, 1, 2, 3], gridTicks: [1, 2],
  title: "⑤古岳近傍及び山麓観測点の１時間平均振幅", unit: "μm/s",
  marks: [
    Plot.line(bin3(shinNE3d), {x: "xm", y: "v", stroke: "black", strokeWidth: 1.8, clip: true}),
    Plot.ruleX(shinNESpikes, {x: d => D(d[0]), y1: 0, y2: d => d[1], stroke: "black", strokeWidth: 1, clip: true}),
    Plot.line(bin3(fdkl3d), {x: "xm", y: "v", stroke: "#ff0000", strokeWidth: 2.6, clip: true}),
    Plot.ruleX(fdklSpikes, {x: d => D(d[0]), y1: 0, y2: d => d[1], stroke: "#ff0000", strokeWidth: 1, clip: true})
  ]
});

// legend boxes (HTML)
const leg3 = document.createElement("div");
leg3.className = "box";
leg3.style.cssText = "left:947px;top:408px;width:79px;height:111px;";
leg3.innerHTML = `<svg width="30" height="110" style="position:absolute;left:0;top:0">
 <line x1="13" y1="10" x2="13" y2="62" stroke="#000"/><line x1="8" y1="10" x2="18" y2="10" stroke="#000"/>
 <line x1="8" y1="62" x2="18" y2="62" stroke="#000"/><circle cx="13" cy="36" r="5.5" fill="#000"/>
 <path d="M9.5,83.5 L16.5,90.5 M16.5,83.5 L9.5,90.5" stroke="#000" stroke-width="2.2"/></svg>
 <span style="left:26px;top:3px">最大値</span><span style="left:26px;top:29px">平均値</span>
 <span style="left:26px;top:55px">最小値</span>
 <span style="left:26px;top:79px">検出限界</span><span style="left:26px;top:95px">未満</span>`;
wrap.appendChild(leg3);

const leg8 = document.createElement("div");
leg8.className = "box";
leg8.style.cssText = "left:743px;top:1318px;width:195px;height:20px;";
leg8.innerHTML = `<svg width="195" height="20" style="position:absolute;left:0;top:0">
 <line x1="19" y1="10" x2="40" y2="10" stroke="#000"/><line x1="128" y1="10" x2="148" y2="10" stroke="#ff0000"/></svg>
 <span style="left:52px;top:3px">新岳北東</span><span style="left:159px;top:3px;font-family:'DejaVu Sans Mono',monospace">FDKL</span>`;
wrap.appendChild(leg8);
</script>
</body></html>
